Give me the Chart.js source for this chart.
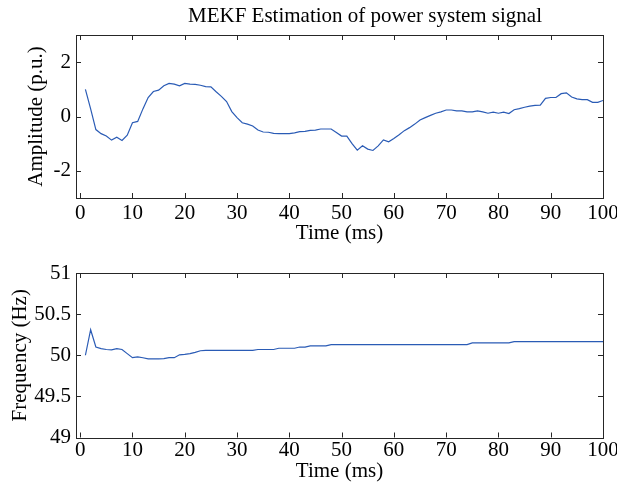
<!DOCTYPE html>
<html>
<head>
<meta charset="utf-8">
<script src="https://cdn.jsdelivr.net/npm/chart.js@4"></script>
<style>
  body { margin: 0; background: #fff; }
  #wrap { position: relative; width: 617px; height: 484px; }
  canvas { position: absolute; left: 0; }
</style>
</head>
<body>
<div id="wrap">
  <canvas id="amp-chart" width="617" height="246" style="top:0"></canvas>
  <canvas id="freq-chart" width="617" height="238" style="top:246px"></canvas>
</div>
<script>
// sample times (ms)
const timeMs = [1,2,3,4,5,6,7,8,9,10,11,12,13,14,15,16,17,18,19,20,
  21,22,23,24,25,26,27,28,29,30,31,32,33,34,35,36,37,38,39,40,
  41,42,43,44,45,46,47,48,49,50,51,52,53,54,55,56,57,58,59,60,
  61,62,63,64,65,66,67,68,69,70,71,72,73,74,75,76,77,78,79,80,
  81,82,83,84,85,86,87,88,89,90,91,92,93,94,95,96,97,98,99,100];

// estimated amplitude (p.u.)
const amplitude = [1.00,0.28,-0.48,-0.63,-0.72,-0.87,-0.76,-0.88,-0.69,-0.23,
  -0.18,0.28,0.70,0.92,0.97,1.13,1.22,1.19,1.13,1.22,
  1.19,1.18,1.15,1.10,1.09,0.91,0.74,0.55,0.18,-0.04,
  -0.23,-0.28,-0.35,-0.50,-0.57,-0.58,-0.62,-0.63,-0.63,-0.63,
  -0.60,-0.56,-0.55,-0.51,-0.50,-0.46,-0.46,-0.46,-0.59,-0.72,
  -0.72,-1.00,-1.24,-1.08,-1.20,-1.25,-1.08,-0.86,-0.93,-0.81,
  -0.67,-0.52,-0.41,-0.28,-0.13,-0.04,0.04,0.12,0.17,0.24,
  0.24,0.21,0.21,0.17,0.17,0.21,0.17,0.12,0.16,0.12,
  0.16,0.11,0.25,0.29,0.34,0.38,0.41,0.42,0.67,0.70,
  0.70,0.84,0.87,0.72,0.65,0.62,0.62,0.52,0.52,0.59];

// estimated frequency (Hz)
const frequency = [50.00,50.31,50.10,50.08,50.07,50.065,50.08,50.07,50.02,49.97,
  49.98,49.97,49.955,49.955,49.955,49.96,49.97,49.97,50.005,50.01,
  50.02,50.035,50.055,50.06,50.06,50.06,50.06,50.06,50.06,50.06,
  50.06,50.06,50.06,50.07,50.07,50.07,50.07,50.085,50.085,50.085,
  50.085,50.10,50.10,50.115,50.115,50.115,50.115,50.13,50.13,50.13,
  50.13,50.13,50.13,50.13,50.13,50.13,50.13,50.13,50.13,50.13,
  50.13,50.13,50.13,50.13,50.13,50.13,50.13,50.13,50.13,50.13,
  50.13,50.13,50.13,50.13,50.15,50.15,50.15,50.15,50.15,50.15,
  50.15,50.15,50.165,50.165,50.165,50.165,50.165,50.165,50.165,50.165,
  50.165,50.165,50.165,50.165,50.165,50.165,50.165,50.165,50.165,50.165];

const timeTicks = [0,10,20,30,40,50,60,70,80,90,100];
const ampTicks = [-2,0,2];
const freqTicks = [49,49.5,50,50.5,51];

const FONT = '"Liberation Serif", "Times New Roman", serif';
const FSIZE = 21;
const LINE_COLOR = '#2a5bb5';

// matlab-ish axes: full box plus inward tick marks on all four sides
const boxTicks = {
  id: 'boxTicks',
  afterDraw(chart, args, opts) {
    const { ctx, chartArea: a, scales } = chart;
    ctx.save();
    ctx.strokeStyle = '#262626';
    ctx.lineWidth = 1;
    ctx.beginPath();
    scales.x.ticks.forEach(t => {
      const px = Math.round(scales.x.getPixelForValue(t.value)) + 0.5;
      ctx.moveTo(px, a.bottom); ctx.lineTo(px, a.bottom - 5);
      ctx.moveTo(px, a.top); ctx.lineTo(px, a.top + 5);
    });
    scales.y.ticks.forEach(t => {
      const py = Math.round(scales.y.getPixelForValue(t.value)) + 0.5;
      ctx.moveTo(a.left, py); ctx.lineTo(a.left + 5, py);
      ctx.moveTo(a.right, py); ctx.lineTo(a.right - 5, py);
    });
    ctx.stroke();
    ctx.strokeRect(Math.round(a.left) + 0.5, Math.round(a.top) + 0.5,
      Math.round(a.right - a.left), Math.round(a.bottom - a.top));
    if (opts && opts.title) {
      ctx.font = FSIZE + 'px ' + FONT;
      ctx.fillStyle = '#000';
      ctx.textAlign = 'center';
      ctx.textBaseline = 'alphabetic';
      ctx.fillText(opts.title, opts.titleX, opts.titleY);
    }
    ctx.restore();
  }
};

function makeChart(id, values, cfg) {
  const el = document.getElementById(id);
  const font = { family: FONT, size: FSIZE };
  return new Chart(el.getContext('2d'), {
    type: 'line',
    data: {
      datasets: [{
        data: timeMs.map((t, i) => ({ x: t, y: values[i] })),
        borderColor: LINE_COLOR,
        borderWidth: 1.2,
        pointRadius: 0,
        tension: 0,
        fill: false
      }]
    },
    options: {
      responsive: false,
      animation: false,
      devicePixelRatio: 1,
      layout: { padding: { top: cfg.padTop, right: 14, bottom: 0, left: 0 } },
      plugins: {
        legend: { display: false },
        tooltip: { enabled: false },
        boxTicks: { title: cfg.title, titleX: 365, titleY: 22 }
      },
      scales: {
        x: {
          type: 'linear',
          min: -0.8,
          max: 100,
          grid: { display: false, drawTicks: false },
          border: { display: false },
          afterBuildTicks: s => { s.ticks = timeTicks.map(v => ({ value: v })); },
          afterFit: s => {
            s.height = cfg.xHeight;
            // keep the "100" label from shrinking the plot area
            s.paddingLeft = 0;
            s.paddingRight = 0;
          },
          ticks: {
            padding: cfg.xTickPad,
            maxRotation: 0,
            autoSkip: false,
            color: '#000',
            font: font,
            callback: v => String(v)
          },
          title: {
            display: true,
            text: 'Time (ms)',
            color: '#000',
            font: font,
            padding: { top: 0, bottom: 0 }
          }
        },
        y: {
          min: cfg.yMin,
          max: cfg.yMax,
          grid: { display: false, drawTicks: false },
          border: { display: false },
          afterBuildTicks: s => { s.ticks = cfg.yTicks.map(v => ({ value: v })); },
          afterFit: s => {
            s.width = 76;
            s.paddingTop = 0;
            s.paddingBottom = 0;
          },
          ticks: {
            padding: 5,
            autoSkip: false,
            color: '#000',
            font: font,
            callback: v => String(v)
          },
          title: {
            display: true,
            text: cfg.yLabel,
            color: '#000',
            font: font,
            padding: { top: cfg.yTitlePad, bottom: 0 }
          }
        }
      }
    },
    plugins: [boxTicks]
  });
}

makeChart('amp-chart', amplitude, {
  title: 'MEKF Estimation of power system signal',
  padTop: 35, xHeight: 48, xTickPad: 3,
  yMin: -3, yMax: 3, yTicks: ampTicks,
  yLabel: 'Amplitude (p.u.)', yTitlePad: 24
});

makeChart('freq-chart', frequency, {
  title: null,
  padTop: 27, xHeight: 46.5, xTickPad: 0,
  yMin: 49, yMax: 51, yTicks: freqTicks,
  yLabel: 'Frequency (Hz)', yTitlePad: 8
});
</script>
</body>
</html>
